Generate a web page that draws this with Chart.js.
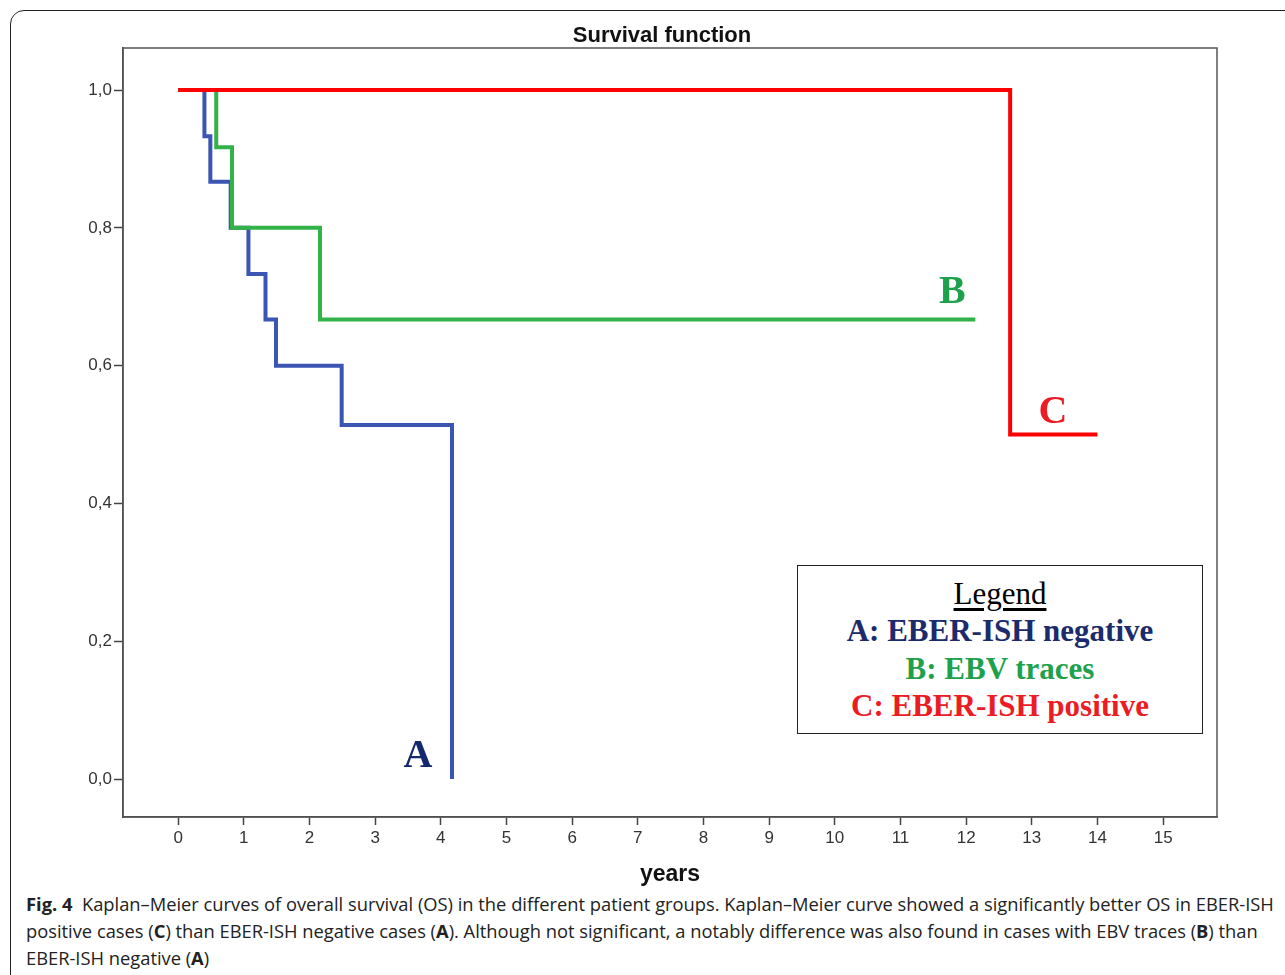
<!DOCTYPE html>
<html>
<head>
<meta charset="utf-8">
<script src="https://cdn.jsdelivr.net/npm/chart.js@4.4.1/dist/chart.umd.min.js"></script>
<style>
  body { margin: 0; background: #fff; width: 1285px; height: 975px; overflow: hidden; position: relative; font-family: Arial, "Liberation Sans", sans-serif; }
  #frame { position: absolute; left: 10px; top: 10px; width: 1320px; height: 1020px; border: 1.5px solid #222; border-radius: 14px; }
  #chartBox { position: absolute; left: 0; top: 0; width: 1285px; height: 890px; }
  #legendBox { position: absolute; left: 797px; top: 565px; width: 406px; height: 169px; border: 1.5px solid #222; background: #fff; box-sizing: border-box;
    font-family: "Liberation Serif", "Times New Roman", serif; font-weight: bold; font-size: 31px; text-align: center; line-height: 37.3px; padding-top: 9px; }
  #legendBox .head { font-weight: normal; text-decoration: underline; text-underline-offset: 4px; }
  #caption { position: absolute; left: 26px; top: 891px; font-family: "Open Sans", "Noto Sans", sans-serif; font-size: 18px; line-height: 27px; color: #222; }
  #caption div { white-space: nowrap; transform-origin: left center; }
</style>
</head>
<body>
<div id="frame"></div>
<div id="chartBox"><canvas id="kmChart" width="1285" height="890"></canvas></div>
<div id="legendBox">
  <div class="head">Legend</div>
  <div style="color:#1b2b6b">A: EBER-ISH negative</div>
  <div style="color:#1ea14c">B: EBV traces</div>
  <div style="color:#ec1c24">C: EBER-ISH positive</div>
</div>
<div id="caption">
  <div><b>Fig. 4</b>&nbsp;&nbsp;Kaplan–Meier curves of overall survival (OS) in the different patient groups. Kaplan–Meier curve showed a significantly better OS in EBER-ISH</div>
  <div>positive cases (<b>C</b>) than EBER-ISH negative cases (<b>A</b>). Although not significant, a notably difference was also found in cases with EBV traces (<b>B</b>) than</div>
  <div>EBER-ISH negative (<b>A</b>)</div>
</div>
<script>
// Kaplan-Meier steps (time in years, survival after the event)
const aTimes = [0, 0.40, 0.49, 0.80, 1.07, 1.33, 1.49, 2.49, 4.17];
const aSurv  = [1, 0.933, 0.867, 0.80, 0.733, 0.667, 0.60, 0.514, 0];
const bTimes = [0, 0.58, 0.82, 2.16, 12.14];
const bSurv  = [1, 0.917, 0.80, 0.667, 0.667];
const cTimes = [0, 12.67, 14.0];
const cSurv  = [1, 0.50, 0.50];

const xTicks = [0, 1, 2, 3, 4, 5, 6, 7, 8, 9, 10, 11, 12, 13, 14, 15];
const yTicks = [0, 0.2, 0.4, 0.6, 0.8, 1.0];

// curve letters: [text, x, y (baseline), colour]
const curveLabels = [
  ['A', 3.65, 0.017, '#14286e'],
  ['B', 11.79, 0.691, '#1ea14c'],
  ['C', 13.32, 0.517, '#ec1c24']
];

function toPoints(times, surv) {
  return times.map((t, i) => ({ x: t, y: surv[i] }));
}

// frame round the plot, title and the A/B/C letters
const decorations = {
  id: 'decorations',
  afterDraw(chart) {
    const { ctx, chartArea: a, scales } = chart;
    ctx.save();
    ctx.strokeStyle = '#555';
    ctx.lineWidth = 1.5;
    ctx.strokeRect(a.left, a.top, a.right - a.left, a.bottom - a.top);

    ctx.fillStyle = '#111';
    ctx.font = 'bold 22px Arial, "Liberation Sans", sans-serif';
    ctx.textAlign = 'center';
    ctx.textBaseline = 'middle';
    ctx.fillText('Survival function', 662, 36);

    ctx.font = 'bold 40px "Liberation Serif", "Times New Roman", serif';
    ctx.textBaseline = 'alphabetic';
    curveLabels.forEach(([txt, x, y, col]) => {
      ctx.fillStyle = col;
      ctx.fillText(txt, scales.x.getPixelForValue(x), scales.y.getPixelForValue(y));
    });
    ctx.restore();
  }
};

function lineSet(label, times, surv, color) {
  return {
    label: label,
    data: toPoints(times, surv),
    borderColor: color,
    borderWidth: 4,
    stepped: 'before',
    pointRadius: 0,
    fill: false,
    tension: 0
  };
}

new Chart(document.getElementById('kmChart').getContext('2d'), {
  type: 'line',
  data: {
    datasets: [
      lineSet('C', cTimes, cSurv, '#ff0000'),
      lineSet('B', bTimes, bSurv, '#33b24a'),
      lineSet('A', aTimes, aSurv, '#3a55b2')
    ]
  },
  options: {
    responsive: false,
    animation: false,
    layout: { padding: { top: 48, right: 68, left: 0, bottom: 0 } },
    plugins: { legend: { display: false }, title: { display: false }, tooltip: { enabled: false } },
    scales: {
      x: {
        type: 'linear',
        min: -0.84,
        max: 15.82,
        afterBuildTicks: s => { s.ticks = xTicks.map(v => ({ value: v })); },
        afterFit: s => { s.height = 73; },
        grid: { drawOnChartArea: false, drawTicks: true, tickLength: 8, tickColor: '#444', tickWidth: 1.5 },
        border: { display: true, color: '#444', width: 1.5 },
        ticks: { color: '#333', font: { size: 17, family: 'Arial, "Liberation Sans", sans-serif' }, padding: 3, maxRotation: 0, autoSkip: false },
        title: { display: true, text: 'years', color: '#111', font: { size: 23, weight: 'bold', family: 'Arial, "Liberation Sans", sans-serif' }, padding: { top: 0, bottom: 2 } }
      },
      y: {
        type: 'linear',
        min: -0.055,
        max: 1.061,
        afterBuildTicks: s => { s.ticks = yTicks.map(v => ({ value: v })); },
        afterFit: s => { s.width = 123; },
        grid: { drawOnChartArea: false, drawTicks: true, tickLength: 9, tickColor: '#444', tickWidth: 1.5 },
        border: { display: true, color: '#444', width: 1.5 },
        ticks: { color: '#333', font: { size: 17, family: 'Arial, "Liberation Sans", sans-serif' }, padding: 2,
          callback: v => v.toFixed(1).replace('.', ',') }
      }
    }
  },
  plugins: [decorations]
});

// squeeze the caption lines to the width of the printed caption
const capLines = document.querySelectorAll('#caption div');
const k = 1248 / capLines[0].scrollWidth;
capLines.forEach(d => { d.style.transform = 'scaleX(' + k.toFixed(4) + ')'; });
</script>
</body>
</html>
